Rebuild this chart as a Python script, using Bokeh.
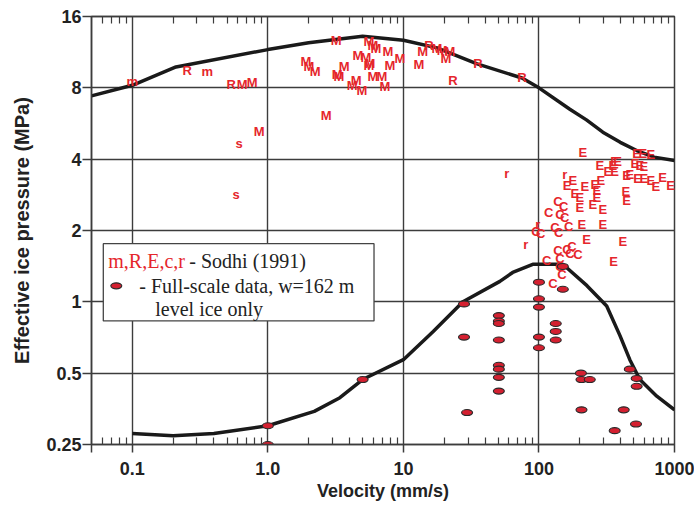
from bokeh.plotting import figure
from bokeh.models import FixedTicker, LogAxis, BoxAnnotation, Label, Range1d
from bokeh.core.properties import value
from bokeh.embed import file_html
from bokeh.resources import INLINE

# ---------------- data ----------------
x_ticks = [0.1, 1, 10, 100, 1000]
x_tick_labels = ["0.1", "1.0", "10", "100", "1000"]
y_ticks = [0.25, 0.5, 1, 2, 4, 8, 16]
y_tick_labels = ["0.25", "0.5", "1", "2", "4", "8", "16"]

# upper envelope curve
upper_v = [0.05, 0.1, 0.21, 1, 2, 5, 10, 17.7, 35, 75, 100, 169, 224, 296, 398, 526, 708, 1000]
upper_p = [7.4, 8.2, 9.8, 11.6, 12.4, 13.2, 12.7, 11.8, 10.1, 8.8, 8.0, 6.5, 5.86, 5.2, 4.71,
           4.35, 4.08, 3.95]

# lower envelope curve
lower_v = [0.1, 0.2, 0.4, 1, 2.2, 3.4, 5, 10, 16.6, 27.5, 51.5, 64, 90, 150, 226, 316, 396,
           468, 555, 740, 1000]
lower_p = [0.278, 0.272, 0.278, 0.30, 0.345, 0.394, 0.47, 0.57, 0.75, 1.0, 1.22, 1.33, 1.44,
           1.44, 1.17, 0.96, 0.72, 0.57, 0.47, 0.40, 0.35]

# Sodhi (1991) lab data, by symbol
m_v = [0.10, 0.357]
m_p = [8.5, 9.36]
s_v = [0.615, 0.584]
s_p = [4.65, 2.83]
R_v = [0.254, 0.537, 15.4, 35.5, 23.2, 74.8]
R_p = [9.45, 8.25, 12.05, 10.11, 8.57, 8.82]
M_v = [0.647, 0.766, 0.863, 3.19, 1.91, 2.01, 2.23, 3.24, 3.35, 3.65, 2.69, 5.57, 5.96, 6.28,
       4.62, 5.30, 5.57, 4.18, 4.48, 4.95, 5.96, 7.69, 5.67, 7.96, 9.44, 6.95, 7.31, 13.9,
       17.7, 19.3, 20.6, 22.0, 13.0]
M_p = [8.25, 8.41, 5.22, 12.65, 10.31, 9.82, 9.36, 9.09, 8.91, 9.82, 6.10, 12.53, 12.05, 11.70,
       10.93, 10.72, 9.92, 8.16, 8.57, 7.78, 8.91, 11.36, 10.11, 9.92, 10.62, 8.91, 8.08, 11.36,
       11.70, 11.47, 10.62, 11.36, 10.01]
E_v = [211, 526, 583, 668, 281, 362, 381, 351, 322, 362, 509, 555, 593, 468, 444, 535, 593, 668,
       727, 818, 937, 178, 161, 218, 258, 267, 286, 184, 200, 267, 200, 250, 296, 437, 444, 207,
       296, 225, 415, 356]
E_p = [4.26, 4.22, 4.22, 4.17, 3.75, 3.90, 3.90, 3.75, 3.54, 3.54, 3.83, 3.75, 3.72, 3.44, 3.40,
       3.31, 3.31, 3.24, 3.06, 3.34, 3.09, 3.24, 3.09, 3.06, 3.12, 2.94, 3.24, 2.86, 2.75, 2.75,
       2.49, 2.57, 2.45, 2.91, 2.67, 2.13, 2.13, 1.84, 1.79, 1.48]
r_v = [58, 155, 98, 80]
r_p = [3.47, 3.44, 2.11, 1.74]
C_v = [138, 152, 118, 143, 155, 95, 103, 131, 140, 166, 138, 161, 175, 194, 169, 114, 143, 143,
       148, 127]
C_p = [2.64, 2.52, 2.38, 2.33, 2.26, 1.99, 1.94, 2.05, 1.96, 2.07, 1.64, 1.66, 1.72, 1.58, 1.60,
       1.49, 1.52, 1.41, 1.30, 1.20]

# full-scale data, w=162 m, level ice only
full_v = [1.0, 1.0, 5.0, 28, 28, 29.5, 50.6, 50.6, 50.6, 50.6, 50.6, 50.6, 50.6, 50.6,
          100, 100, 100, 100, 100, 150, 150, 133, 133, 133, 204, 206, 237, 206, 362, 422,
          468, 526, 526, 520]
full_p = [0.30, 0.25, 0.47, 0.98, 0.71, 0.341, 0.875, 0.83, 0.81, 0.69, 0.54, 0.52, 0.48, 0.42,
          1.21, 1.03, 0.95, 0.71, 0.64, 1.41, 1.13, 0.81, 0.75, 0.69, 0.50, 0.47, 0.47, 0.35,
          0.286, 0.35, 0.52, 0.475, 0.44, 0.305]

# ---------------- styling ----------------
SANS = "Liberation Sans"
SERIF = "Liberation Serif"
INK = "#222222"
GRID = "#3c3c3c"
RED = "#e5262c"
DOT_FILL = "#d42030"

minor_x = [m * 10.0 ** e for e in range(-2, 3) for m in range(2, 10) if 0.05 < m * 10.0 ** e < 1000]

p = figure(width=694, height=506, x_axis_type="log", y_axis_type="log",
           x_range=Range1d(0.05, 1000), y_range=Range1d(0.25, 16),
           output_backend="svg", toolbar_location=None,
           min_border_left=91, min_border_right=20, min_border_top=16, min_border_bottom=62)
p.outline_line_color = GRID
p.outline_line_width = 1.5
p.background_fill_color = "white"
p.border_fill_color = "white"

xa = p.xaxis[0]
xa.ticker = FixedTicker(ticks=[0.05] + x_ticks, minor_ticks=minor_x)
ov = {0.05: ""}
ov.update({t: l for t, l in zip(x_ticks, x_tick_labels)})
xa.major_label_overrides = ov
xa.major_tick_out = 8
xa.major_tick_in = 0
xa.minor_tick_in = 7
xa.minor_tick_out = 0
xa.axis_line_color = GRID
xa.axis_line_width = 1.5
xa.major_tick_line_color = GRID
xa.major_tick_line_width = 1.5
xa.minor_tick_line_color = GRID
xa.minor_tick_line_width = 1.2
xa.major_label_text_font = SANS
xa.major_label_text_font_size = "18px"
xa.major_label_text_font_style = "bold"
xa.major_label_text_color = INK
xa.major_label_standoff = 9
xa.axis_label = "Velocity (mm/s)"
xa.axis_label_text_font = SANS
xa.axis_label_text_font_size = "18px"
xa.axis_label_text_font_style = "bold"
xa.axis_label_text_color = INK
xa.axis_label_standoff = 3

top = LogAxis(ticker=FixedTicker(ticks=[], minor_ticks=minor_x),
              major_tick_out=0, major_tick_in=0, minor_tick_in=7, minor_tick_out=0,
              major_label_standoff=0, axis_line_color=GRID, axis_line_width=1.5,
              minor_tick_line_color=GRID, minor_tick_line_width=1.2)
p.add_layout(top, "above")

ya = p.yaxis[0]
ya.ticker = FixedTicker(ticks=y_ticks, minor_ticks=[])
ya.major_label_overrides = {t: l for t, l in zip(y_ticks, y_tick_labels)}
ya.major_tick_out = 9
ya.major_tick_in = 0
ya.minor_tick_out = 0
ya.minor_tick_in = 0
ya.axis_line_color = GRID
ya.axis_line_width = 1.5
ya.major_tick_line_color = GRID
ya.major_tick_line_width = 1.5
ya.major_label_text_font = SANS
ya.major_label_text_font_size = "18px"
ya.major_label_text_font_style = "bold"
ya.major_label_text_color = INK
ya.major_label_standoff = 1
ya.axis_label = "Effective ice pressure (MPa)"
ya.axis_label_text_font = SANS
ya.axis_label_text_font_size = "20px"
ya.axis_label_text_font_style = "bold"
ya.axis_label_text_color = INK
ya.axis_label_standoff = 10

p.xgrid.ticker = FixedTicker(ticks=x_ticks)
p.ygrid.ticker = FixedTicker(ticks=y_ticks)
for g in (p.xgrid[0], p.ygrid[0]):
    g.grid_line_color = GRID
    g.grid_line_width = 1.4

# curves
p.line(upper_v, upper_p, line_color="#1a1a1a", line_width=3.5)
p.line(lower_v, lower_p, line_color="#1a1a1a", line_width=3.5)

# lab data letters
for vs, ps, ch in [(m_v, m_p, "m"), (s_v, s_p, "s"), (R_v, R_p, "R"), (M_v, M_p, "M"),
                   (E_v, E_p, "E"), (r_v, r_p, "r"), (C_v, C_p, "C")]:
    p.text(x=vs, y=ps, text=[ch] * len(vs), text_font=value(SANS), text_font_style="bold",
           text_font_size="13px", text_color=RED, text_align="center", text_baseline="middle")

# full scale data ellipses
p.ellipse(x=full_v, y=full_p, width=11, height=6, width_units="screen", height_units="screen",
          fill_color=DOT_FILL, line_color="#2a2a2a", line_width=1.1)

# ---------------- legend ----------------
LEG_L, LEG_R, LEG_B, LEG_T = 0.0611, 6.07, 0.831, 1.76
p.add_layout(BoxAnnotation(left=LEG_L, right=LEG_R, bottom=LEG_B, top=LEG_T,
                           fill_color="white", fill_alpha=1.0, line_color="#444444",
                           line_width=1.3, line_alpha=1.0))
row1, row2, row3 = 1.49, 1.168, 0.934
p.add_layout(Label(x=LEG_L, y=row1, x_offset=5, text="m,R,E,c,r", text_font=SERIF,
                   text_font_size="20px", text_color=RED, text_baseline="middle"))
p.add_layout(Label(x=LEG_L, y=row1, x_offset=86, text="- Sodhi (1991)", text_font=SERIF,
                   text_font_size="20px", text_color=INK, text_baseline="middle"))
p.add_layout(Label(x=LEG_L, y=row2, x_offset=36, text="- Full-scale data, w=162 m",
                   text_font=SERIF, text_font_size="20px", text_color=INK,
                   text_baseline="middle"))
p.add_layout(Label(x=LEG_L, y=row3, x_offset=52, text="level ice only", text_font=SERIF,
                   text_font_size="20px", text_color=INK, text_baseline="middle"))
p.ellipse(x=[0.0762], y=[row2], width=11, height=6, width_units="screen",
          height_units="screen", fill_color=DOT_FILL, line_color="#2a2a2a", line_width=1.1,
          level="overlay")

open("out.html", "w").write(file_html(p, INLINE))
